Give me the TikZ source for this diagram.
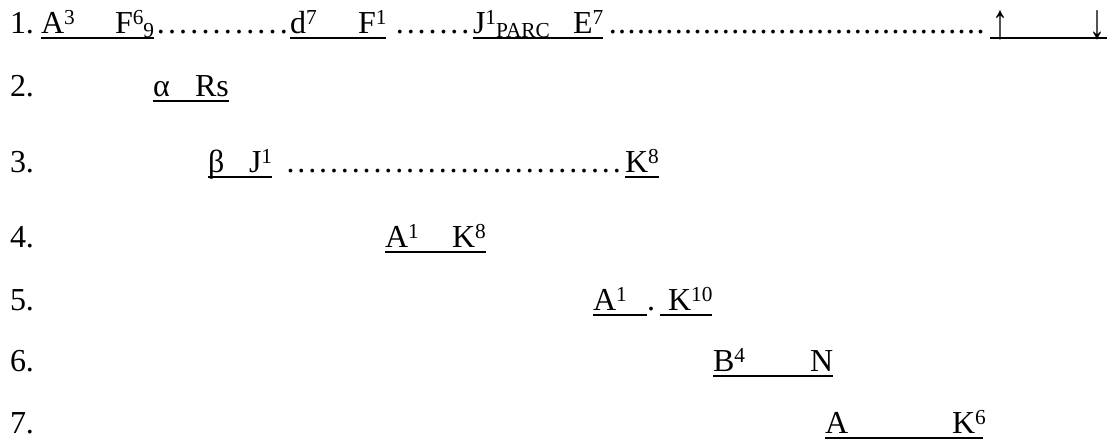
\documentclass[tikz,border=0pt]{standalone}
\usepackage{fontspec}
\setmainfont{Liberation Serif}
\newcommand{\supr}[1]{\raisebox{6.5pt}{\fontsize{16}{16}\selectfont #1}}
\newcommand{\subr}[1]{\raisebox{-3pt}{\fontsize{16}{16}\selectfont #1}}
\newcommand{\dotrow}[2]{\hbox to #1{\xleaders\hbox to #2{\hss.\hss}\hfill}}
\newcommand{\tallarrow}[1]{\raisebox{-4pt}{\scalebox{1}[1.55]{#1}}}
\tikzset{
  t/.style={anchor=base west, inner sep=0pt, outer sep=0pt, font=\fontsize{24}{24}\selectfont},
  uline/.style={line width=1.5pt},
  thinline/.style={line width=0.9pt}
}
\begin{document}
\begin{tikzpicture}[x=0.75pt,y=-0.75pt]
\useasboundingbox (0,0) rectangle (1107,439);
% line numbers
\node[t] (n1) at (10,33) {1.};
\node[t] (n2) at (10,96) {2.};
\node[t] (n3) at (10,172) {3.};
\node[t] (n4) at (10,247) {4.};
\node[t] (n5) at (10,310) {5.};
\node[t] (n6) at (10,371) {6.};
\node[t] (n7) at (10,433) {7.};
% line 1
\node[t] (l1a) at (41,33) {A\supr{3}};
\node[t] (l1b) at (115,33) {F\supr{6}\subr{9}};
\node[t] (l1d1) at (155,33) {\dotrow{101pt}{8pt}};
\node[t] (l1c) at (290,33) {d\supr{7}};
\node[t] (l1e) at (358,33) {F\supr{1}};
\node[t] (l1d2) at (394,33) {\dotrow{58pt}{7.5pt}};
\node[t] (l1f) at (473,33) {J\supr{1}};
\node[t] (l1s) at (l1f.base east) {\subr{PARC}};
\node[t] (l1g) at (573,33) {E\supr{7}};
\node[t] (l1d3) at (608,33) {\dotrow{283pt}{7pt}};
\node[t] (up) at (992,33) {\tallarrow{↑}};
\node[t] (dn) at (1089,33) {\tallarrow{↓}};
\draw[uline] ([yshift=-3.75pt]l1a.base west) -- ([yshift=-3.75pt]l1b.base east);
\draw[uline] ([yshift=-3.75pt]l1c.base west) -- ([yshift=-3.75pt]l1e.base east);
\draw[uline] ([yshift=-3.75pt]l1f.base west) -- ([yshift=-3.75pt]l1f.base east);
\draw[thinline] ([yshift=-3.75pt]l1s.base west) -- ([yshift=-3.75pt]l1s.base east);
\draw[uline] ([yshift=-3.75pt]l1s.base east) -- ([yshift=-3.75pt]l1g.base east);
\draw[uline] ([yshift=-3.75pt,xshift=-1.5pt]up.base west) -- ([yshift=-3.75pt,xshift=2pt]dn.base east);
% line 2
\node[t] (l2a) at (153,96) {α};
\node[t] (l2b) at (195,96) {Rs};
\draw[uline] ([yshift=-3.75pt]l2a.base west) -- ([yshift=-3.75pt]l2b.base east);
% line 3
\node[t] (l3a) at (208,172) {β};
\node[t] (l3b) at (249,172) {J\supr{1}};
\node[t] (l3d) at (285,172) {\dotrow{253pt}{8pt}};
\node[t] (l3c) at (625,172) {K\supr{8}};
\draw[uline] ([yshift=-3.75pt]l3a.base west) -- ([yshift=-3.75pt]l3b.base east);
\draw[uline] ([yshift=-3.75pt]l3c.base west) -- ([yshift=-3.75pt]l3c.base east);
% line 4
\node[t] (l4a) at (385,247) {A\supr{1}};
\node[t] (l4b) at (452,247) {K\supr{8}};
\draw[uline] ([yshift=-3.75pt]l4a.base west) -- ([yshift=-3.75pt]l4b.base east);
% line 5
\node[t] (l5a) at (593,310) {A\supr{1}};
\node[t] (l5p) at (647,310) {.};
\node[t] (l5b) at (668,310) {K\supr{10}};
\draw[uline] ([yshift=-3.75pt]l5a.base west) -- ([yshift=-3.75pt]l5p.base west);
\draw[uline] ([yshift=-3.75pt,xshift=4pt]l5p.base east) -- ([yshift=-3.75pt]l5b.base east);
% line 6
\node[t] (l6a) at (713,371) {B\supr{4}};
\node[t] (l6b) at (810,371) {N};
\draw[uline] ([yshift=-3.75pt]l6a.base west) -- ([yshift=-3.75pt]l6b.base east);
% line 7
\node[t] (l7a) at (825,433) {A};
\node[t] (l7b) at (952,433) {K\supr{6}};
\draw[uline] ([yshift=-3.75pt]l7a.base west) -- ([yshift=-3.75pt,xshift=-2pt]l7b.base east);
\end{tikzpicture}
\end{document}
